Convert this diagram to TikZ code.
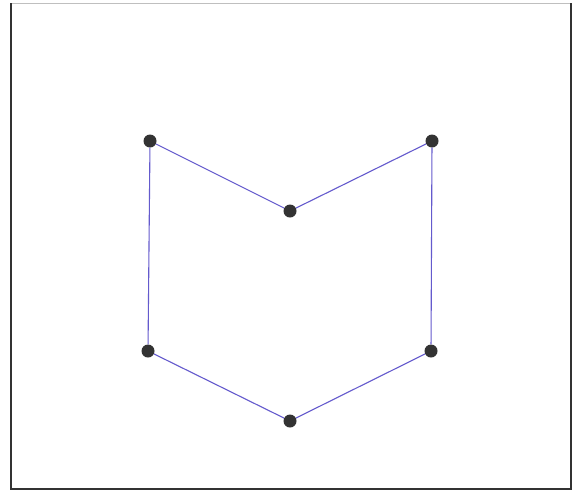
\documentclass[tikz,border=0pt]{standalone}
\begin{document}
\begin{tikzpicture}[x=1pt,y=-1pt,
  dot/.style={circle,fill=black!80,inner sep=0pt,minimum size=13pt},
  edge/.style={draw={rgb,255:red,100;green,90;blue,205},line width=1.1pt}]
\useasboundingbox (0,0) rectangle (580,493);
\fill[white] (0,0) rectangle (580,493);
\draw[black!25,line width=1.2pt] (11,3.5) -- (571,3.5);
\draw[black!80,line width=2.2pt] (11,3) -- (11,489) -- (571,489) -- (571,3);
\node[dot] (a) at (150,141) {};
\node[dot] (b) at (290,211) {};
\node[dot] (c) at (432,141) {};
\node[dot] (d) at (431,351) {};
\node[dot] (e) at (290,421) {};
\node[dot] (f) at (148,351) {};
\draw[edge] (a) -- (b) -- (c) -- (d) -- (e) -- (f) -- (a);
\end{tikzpicture}
\end{document}
